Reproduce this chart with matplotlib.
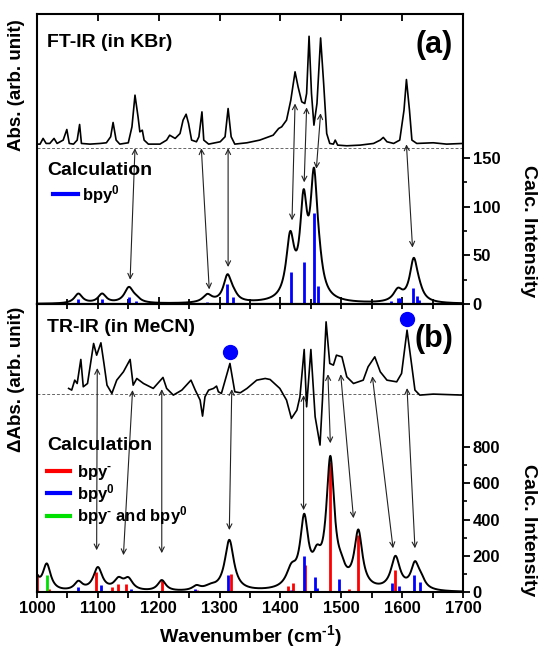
import numpy as np
import matplotlib
matplotlib.use("Agg")
import matplotlib.pyplot as plt
from matplotlib.lines import Line2D
from matplotlib.ticker import MultipleLocator, FixedLocator

plt.rcParams['font.family'] = ['Liberation Sans', 'DejaVu Sans']
plt.rcParams['font.weight'] = 'bold'
plt.rcParams['mathtext.fontset'] = 'custom'
plt.rcParams['mathtext.rm'] = 'Liberation Sans:bold'
plt.rcParams['mathtext.bf'] = 'Liberation Sans:bold'
plt.rcParams['mathtext.it'] = 'Liberation Sans:bold'
plt.rcParams['axes.linewidth'] = 1.5

# ---- panel (a): FT-IR in KBr (arb. units, baseline = 0) ----
ftir_wn = [1000, 1005, 1010, 1015, 1021, 1028, 1033, 1043, 1049, 1053, 1060, 1066, 1070, 1073,
           1087, 1104, 1114, 1121, 1125, 1130, 1136, 1150, 1156, 1161, 1166, 1169, 1173, 1176,
           1183, 1202, 1213, 1218, 1227, 1235, 1240, 1245, 1249, 1254, 1262, 1266, 1271, 1274,
           1282, 1301, 1309, 1314, 1319, 1325, 1345, 1366, 1388, 1397, 1402, 1410, 1417, 1424,
           1429, 1435, 1440, 1443, 1447, 1451, 1455, 1460, 1466, 1471, 1476, 1481, 1487, 1490,
           1494, 1509, 1531, 1553, 1564, 1569, 1575, 1586, 1596, 1603, 1607, 1612, 1616, 1624,
           1651, 1673, 1700]
ftir_abs = [0.033, 0.033, 0.084, 0.039, 0.039, 0.084, 0.039, 0.069, 0.164, 0.039, 0.033, 0.069,
            0.209, 0.039, 0.033, 0.039, 0.045, 0.099, 0.227, 0.069, 0.033, 0.045, 0.188, 0.472,
            0.278, 0.143, 0.158, 0.069, 0.033, 0.033, 0.069, 0.113, 0.084, 0.128, 0.248, 0.301,
            0.218, 0.069, 0.054, 0.099, 0.322, 0.069, 0.033, 0.054, 0.099, 0.352, 0.099, 0.033,
            0.045, 0.069, 0.113, 0.173, 0.188, 0.248, 0.427, 0.681, 0.546, 0.412, 0.397, 0.487,
            1.0, 0.487, 0.203, 0.397, 0.985, 0.576, 0.128, 0.039, 0.033, 0.069, 0.024, 0.018,
            0.024, 0.039, 0.069, 0.093, 0.054, 0.039, 0.069, 0.337, 0.612, 0.337, 0.069, 0.039,
            0.045, 0.033, 0.039]

calc_a_wn = [1067.5, 1106.5, 1150.5, 1163, 1280, 1312, 1322.5, 1417, 1439, 1455, 1461,
             1581, 1593, 1596, 1618.5, 1624, 1627.5]
calc_a_int = [5, 5.5, 7.5, 3, 2.5, 20.5, 7.5, 32.5, 43, 93, 19, 3.5, 6.5, 6.5, 16.3, 8.7, 4]

# broadened calc. spectrum bands: centre, height, half width
band_a_c = [1068, 1107, 1151, 1163, 1280, 1313, 1323, 1416, 1438, 1455, 1463, 1593, 1619, 1628]
band_a_h = [10, 9.5, 16, 3, 8, 27, 5, 62, 92, 115, 18, 12, 43, 6]
band_a_g = [8, 8, 9, 8, 9, 8, 8, 8, 7, 7, 8, 9, 8, 8]

# ---- panel (b): TR-IR in MeCN (arb. units, zero = 0) ----
trir_wn = [1052, 1057, 1062, 1066, 1072, 1076, 1083, 1093, 1098, 1105, 1110, 1115, 1123, 1131,
           1142, 1153, 1158, 1164, 1175, 1191, 1207, 1213, 1224, 1238, 1253, 1260, 1268, 1272,
           1276, 1282, 1290, 1295, 1298, 1303, 1317, 1325, 1334, 1345, 1361, 1375, 1383, 1399,
           1410, 1418, 1427, 1432, 1439, 1443, 1450, 1457, 1465, 1469, 1475, 1481, 1487, 1492,
           1501, 1509, 1520, 1536, 1544, 1555, 1564, 1575, 1591, 1599, 1608, 1616, 1621, 1629,
           1651, 1700]
trir_dabs = [0.083, 0.060, 0.197, 0.151, 0.482, 0.106, 0.151, 0.702, 0.541, 0.711, 0.427,
             0.128, 0.014, 0.197, 0.312, 0.482, 0.128, 0.220, 0.151, 0.083, 0.234, 0.083,
             -0.009, 0.060, 0.197, 0.060, -0.078, -0.298, -0.032, 0.060, 0.083, 0.115, 0.037,
             0.014, 0.427, 0.037, 0.023, 0.083, 0.197, 0.220, 0.206, 0.083, -0.078, -0.330,
             -0.216, -0.032, 0.619, -0.170, 0.619, -0.307, -0.697, -0.078, 1.0, 0.427, 0.404,
             0.541, 0.518, 0.243, 0.151, 0.197, 0.381, 0.518, 0.312, 0.197, 0.174, 0.289,
             0.885, 0.381, 0.060, -0.009, 0.005, -0.009]

red_wn = [1000.5, 1010.5, 1019.5, 1097, 1123, 1133, 1147, 1205, 1263, 1318, 1413, 1421, 1440,
          1482, 1512, 1527, 1573, 1589]
red_int = [100, 9, 18, 113, 31, 49, 46, 68, 13, 104, 36, 51, 150, 716, 18, 315, 5, 124]
blue_wn = [1022.6, 1026, 1062, 1068, 1105, 1155, 1260, 1281, 1309, 1314, 1329, 1417, 1438,
           1457, 1460.5, 1497, 1583, 1595, 1620, 1629]
blue_int = [9, 4, 9, 31, 42, 18, 18, 9, 5, 95, 5, 15, 200, 84, 24, 73, 51, 36, 97, 55]
green_wn = [1016]
green_int = [95]

band_b_c = [998, 1016, 1068, 1100, 1134, 1150, 1205, 1262, 1285, 1316, 1418, 1439, 1460,
            1482, 1500, 1528, 1589, 1621, 1631]
band_b_h = [75, 148, 48, 128, 58, 62, 60, 24, 20, 280, 95, 370, 120, 700, 60, 310, 180, 135, 45]
band_b_g = [6, 8, 8, 9, 9, 9, 8, 8, 12, 9, 10, 8, 8, 8, 8, 8, 9, 8, 8]

marked_wn = [1317, 1608]
marked_y = [1319, 1500]

# assignment arrows: (x_exp, y_exp, x_calc, y_calc) in calc-axis units
arrows_a = [(1161, 160, 1153, 25), (1270, 160, 1283, 15), (1314, 160, 1314, 38),
            (1424, 206, 1419, 86), (1443, 202, 1439, 125), (1466, 196, 1459, 139),
            (1607, 164, 1617, 58)]
arrows_b = [(1099, 1233, 1098, 232), (1157, 1112, 1142, 205), (1205, 1117, 1205, 216),
            (1320, 1117, 1316, 343), (1438, 1084, 1438, 452), (1478, 1199, 1482, 820),
            (1499, 1199, 1520, 408), (1551, 1188, 1585, 243), (1608, 1123, 1621, 243)]

# offsets/scales placing the experimental traces above the calc. spectra
A_OFF, A_SCALE = 160.5, 114.6
B_OFF, B_SCALE = 1088, 399

BLUE, RED, GREEN = '#0000ff', '#ff0000', '#00e000'
SUP_M = r'$^{\mathbf{\text{-}}}$'
SUP_0 = r'$^{\mathbf{0}}$'


def lorentz_sum(x, centres, heights, widths):
    y = np.zeros_like(x)
    for c, h, g in zip(centres, heights, widths):
        y += h / (1 + ((x - c) / g) ** 2)
    return y


grid = np.linspace(1000, 1700, 1401)

fig = plt.figure(figsize=(5.45, 6.5), dpi=100)
ax_a = fig.add_axes([0.0679, 0.5323, 0.7817, 0.4462])
ax_b = fig.add_axes([0.0679, 0.0885, 0.7817, 0.4438])

# panel (a)
ax_a.axhline(A_OFF, color='#666666', ls=(0, (3, 2)), lw=0.7)
ax_a.plot(ftir_wn, A_OFF + A_SCALE * np.array(ftir_abs), color='k', lw=1.2)
ax_a.vlines(calc_a_wn, 0, calc_a_int, color=BLUE, lw=2)
ax_a.plot(grid, lorentz_sum(grid, band_a_c, band_a_h, band_a_g), color='k', lw=1.4)
ax_a.set_ylim(0, 298)

# panel (b)
ax_b.axhline(B_OFF, color='#666666', ls=(0, (3, 2)), lw=0.7)
ax_b.plot(trir_wn, B_OFF + B_SCALE * np.array(trir_dabs), color='k', lw=1.2)
ax_b.vlines(red_wn, 0, red_int, color=RED, lw=2)
ax_b.vlines(blue_wn, 0, blue_int, color=BLUE, lw=2)
ax_b.vlines(green_wn, 0, green_int, color=GREEN, lw=2)
ax_b.plot(grid, lorentz_sum(grid, band_b_c, band_b_h, band_b_g), color='k', lw=1.4)
ax_b.plot(marked_wn, marked_y, 'o', color=BLUE, ms=10)
ax_b.set_ylim(0, 1585)

for ax, arrows in ((ax_a, arrows_a), (ax_b, arrows_b)):
    for x1, y1, x2, y2 in arrows:
        ax.annotate('', xy=(x2, y2), xytext=(x1, y1),
                    arrowprops=dict(arrowstyle='<->', color='#222222', lw=0.8,
                                    shrinkA=0, shrinkB=0, mutation_scale=9))

# ticks
for ax in (ax_a, ax_b):
    ax.set_xlim(1000, 1700)
    ax.xaxis.set_major_locator(MultipleLocator(100))
    ax.xaxis.set_minor_locator(MultipleLocator(50))
    ax.tick_params(axis='y', which='both', left=False, labelleft=False, right=True,
                   labelright=True, direction='out', labelsize=12, pad=2)
    ax.tick_params(axis='y', which='major', length=5, width=1.3)
    ax.tick_params(axis='y', which='minor', length=3, width=1.2)

ax_a.yaxis.set_major_locator(FixedLocator([0, 50, 100, 150]))
ax_a.yaxis.set_minor_locator(FixedLocator([25, 75, 125]))
ax_b.yaxis.set_major_locator(FixedLocator([0, 200, 400, 600, 800]))
ax_b.yaxis.set_minor_locator(FixedLocator([100, 300, 500, 700]))

ax_a.tick_params(axis='x', which='both', top=True, bottom=True, direction='in',
                 labelbottom=False, width=1.3)
ax_a.tick_params(axis='x', which='major', length=5)
ax_a.tick_params(axis='x', which='minor', length=3.5, top=False)

ax_b.tick_params(axis='x', which='both', top=False, bottom=True, direction='out',
                 labelsize=12, pad=2, width=1.3)
ax_b.tick_params(axis='x', which='major', length=4)
ax_b.tick_params(axis='x', which='minor', length=4)
sec = ax_b.secondary_xaxis('top')
sec.xaxis.set_major_locator(MultipleLocator(100))
sec.xaxis.set_minor_locator(MultipleLocator(50))
sec.tick_params(axis='x', which='both', direction='in', labeltop=False, length=3.5, width=1.3)

ax_b.set_xlabel(r'Wavenumber (cm$^{\mathbf{\text{-}1}}$)', fontsize=14, fontweight='bold',
                labelpad=5)

# labels and annotations
ax_a.text(-0.047, 0.755, 'Abs. (arb. unit)', transform=ax_a.transAxes, rotation=90,
          ha='center', va='center', fontsize=13.5)
ax_b.text(-0.047, 0.737, '\u0394Abs. (arb. unit)', transform=ax_b.transAxes, rotation=90,
          ha='center', va='center', fontsize=13.5)
ax_a.text(1.153, 0.252, 'Calc. Intensity', transform=ax_a.transAxes, rotation=270,
          ha='center', va='center', fontsize=14)
ax_b.text(1.153, 0.217, 'Calc. Intensity', transform=ax_b.transAxes, rotation=270,
          ha='center', va='center', fontsize=14)

ax_a.text(0.0235, 0.903, 'FT-IR (in KBr)', transform=ax_a.transAxes, ha='left',
          va='center', fontsize=14)
ax_a.text(0.9765, 0.893, '(a)', transform=ax_a.transAxes, ha='right', va='center',
          fontsize=22)
ax_b.text(0.0235, 0.920, 'TR-IR (in MeCN)', transform=ax_b.transAxes, ha='left',
          va='center', fontsize=14)
ax_b.text(0.9765, 0.879, '(b)', transform=ax_b.transAxes, ha='right', va='center',
          fontsize=22)

ax_a.text(0.0235, 0.462, 'Calculation', transform=ax_a.transAxes, ha='left', va='center',
          fontsize=14)
ax_b.text(0.0235, 0.508, 'Calculation', transform=ax_b.transAxes, ha='left', va='center',
          fontsize=14)

ax_a.legend([Line2D([], [], color=BLUE, lw=3)], ['bpy' + SUP_0],
            loc='upper left', bbox_to_anchor=(0.0376, 0.418), frameon=False,
            prop={'weight': 'bold', 'size': 12}, handlelength=1.5,
            handletextpad=0.25, borderaxespad=0, borderpad=0)
ax_b.legend([Line2D([], [], color=RED, lw=3), Line2D([], [], color=BLUE, lw=3),
             Line2D([], [], color=GREEN, lw=3)],
            ['bpy' + SUP_M, 'bpy' + SUP_0, 'bpy' + SUP_M + ' and bpy' + SUP_0],
            loc='upper left', bbox_to_anchor=(0.0235, 0.450), frameon=False,
            prop={'weight': 'bold', 'size': 12}, handlelength=1.4, handletextpad=0.4,
            labelspacing=0.0, borderaxespad=0, borderpad=0)

fig.savefig('out.png', dpi=100)
